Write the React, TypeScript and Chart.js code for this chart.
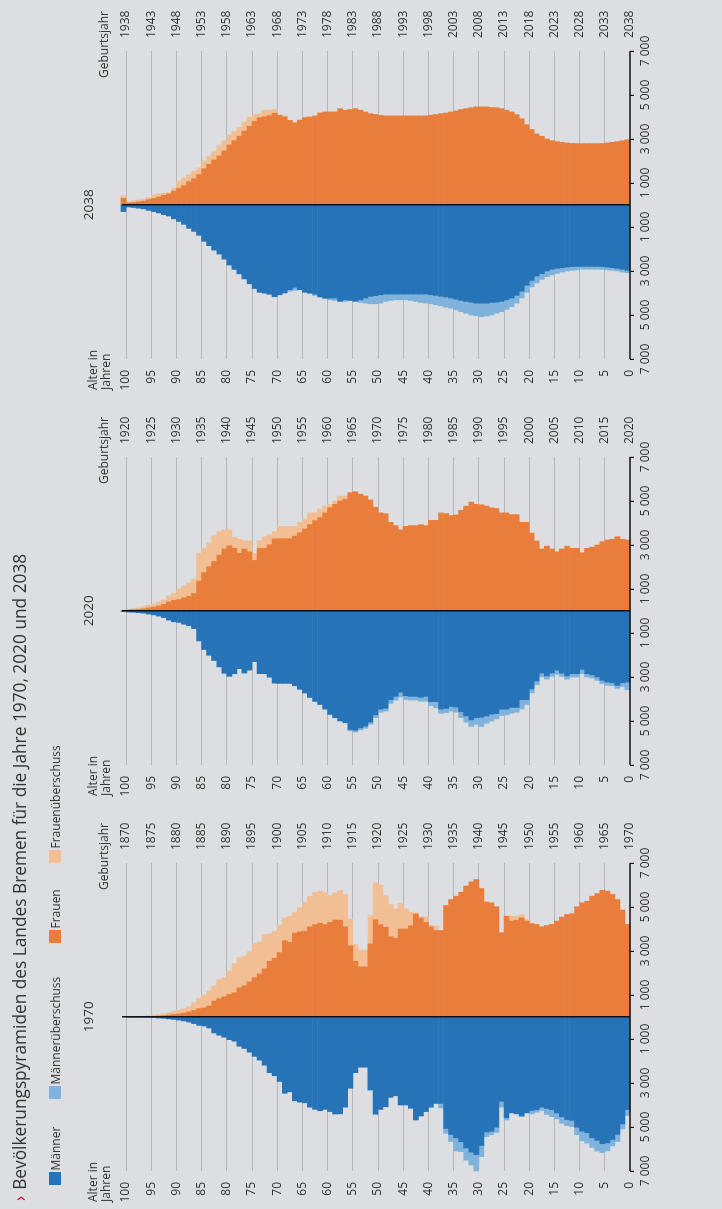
import React, { useEffect, useRef } from "react";
import { Chart, registerables } from "chart.js";

Chart.register(...registerables);

// ---------- texts ----------
const titleText = "Bevölkerungspyramiden des Landes Bremen für die Jahre 1970, 2020 und 2038";
const legendLabels = ["Männer", "Männerüberschuss", "Frauen", "Frauenüberschuss"];
const ageAxisLabel = ["Alter in", "Jahren"];
const birthAxisLabel = "Geburtsjahr";

// ---------- ticks ----------
const ageTicks = [0, 5, 10, 15, 20, 25, 30, 35, 40, 45, 50, 55, 60, 65, 70, 75, 80, 85, 90, 95, 100];
const valueTicks = [-7000, -5000, -3000, -1000, 1000, 3000, 5000, 7000];

// ---------- data (persons per age 0..100) ----------
const panelYears = [1970, 2020, 2038];

const men1970 = [
  4480, 5090, 5660, 5860, 6090, 6160, 6090, 5930, 5730, 5630,
  5350, 4980, 4940, 4830, 4630, 4530, 4430, 4250, 4330, 4400,
  4360, 4510, 4400, 4360, 4680, 4100, 5240, 5350, 5440, 6350,
  7000, 6730, 6510, 6120, 6090, 5660, 5290, 4130, 3930, 4100,
  4300, 4500, 4680, 4150, 4000, 4000, 3580, 3650, 4080, 4200,
  4420, 3320, 2280, 2280, 2530, 3240, 4100, 4400, 4410, 4300,
  4200, 4260, 4200, 4100, 3900, 3870, 3810, 3400, 3470, 2930,
  2670, 2530, 2190, 1960, 1790, 1600, 1430, 1330, 1100, 1030,
  920, 830, 725, 500, 410, 380, 300, 230, 180, 140,
  110, 85, 60, 45, 30, 20, 12, 7, 4, 2,
  0,
];
const women1970 = [
  4210, 4860, 5340, 5570, 5720, 5760, 5610, 5490, 5260, 5190,
  5010, 4700, 4660, 4540, 4360, 4210, 4160, 4100, 4210, 4250,
  4430, 4660, 4580, 4580, 4580, 3830, 5010, 5190, 5230, 5840,
  6250, 6140, 5950, 5670, 5490, 5340, 5070, 3930, 4130, 4170,
  4550, 4550, 4740, 4770, 4920, 5160, 4920, 5110, 5520, 5990,
  6100, 4610, 3040, 3040, 3300, 4460, 5570, 5750, 5640, 5520,
  5670, 5720, 5670, 5490, 5220, 4960, 4740, 4580, 4510, 4180,
  3900, 3780, 3750, 3420, 3340, 2970, 2770, 2690, 2440, 2090,
  1790, 1710, 1400, 1180, 1000, 850, 650, 470, 380, 320,
  270, 200, 150, 110, 80, 55, 35, 20, 10, 5,
  0,
];

const men2020 = [
  3580, 3430, 3520, 3400, 3380, 3300, 3150, 3050, 3000, 2850,
  3000, 3000, 3100, 2970, 2880, 2970, 3100, 2990, 3350, 3720,
  4250, 4450, 4600, 4650, 4720, 4750, 4900, 5000, 5100, 5250,
  5150, 5250, 5050, 4850, 4600, 4550, 4620, 4650, 4400, 4300,
  4100, 4100, 4050, 4050, 4020, 3900, 4050, 4200, 4550, 4600,
  4850, 5150, 5330, 5400, 5500, 5450, 5080, 5000, 4850, 4700,
  4460, 4250, 4110, 3930, 3730, 3560, 3400, 3290, 3290, 3290,
  3280, 3010, 2850, 2850, 2300, 2690, 2820, 2620, 2850, 2970,
  2830, 2540, 2250, 2010, 1750, 1360, 800, 670, 600, 520,
  490, 415, 300, 230, 175, 140, 100, 75, 55, 50,
  20,
];
const women2020 = [
  3230, 3260, 3380, 3260, 3230, 3150, 3000, 2900, 2850, 2650,
  2850, 2850, 2950, 2820, 2690, 2820, 2950, 2820, 3180, 3540,
  4030, 4030, 4380, 4380, 4460, 4460, 4660, 4690, 4770, 4830,
  4850, 4950, 4770, 4580, 4370, 4340, 4430, 4460, 4120, 4120,
  3880, 3920, 3880, 3880, 3850, 3690, 3880, 4030, 4420, 4460,
  4720, 5050, 5230, 5310, 5420, 5380, 5230, 5230, 5000, 4850,
  4770, 4640, 4460, 4460, 4180, 4030, 3850, 3850, 3850, 3850,
  3620, 3460, 3380, 3200, 2620, 3180, 3200, 3260, 3350, 3690,
  3690, 3620, 3420, 3110, 2850, 2620, 1460, 1280, 1150, 1000,
  800, 690, 490, 415, 310, 260, 200, 154, 108, 77,
  40,
];

const men2038 = [
  3080, 3050, 3000, 2970, 2950, 2930, 2920, 2920, 2920, 2920,
  2950, 2970, 3000, 3050, 3110, 3180, 3260, 3380, 3540, 3720,
  3970, 4230, 4460, 4620, 4740, 4850, 4920, 5000, 5050, 5080,
  5030, 5000, 4920, 4850, 4770, 4690, 4650, 4580, 4540, 4490,
  4460, 4430, 4380, 4340, 4310, 4310, 4310, 4340, 4380, 4460,
  4490, 4490, 4460, 4430, 4380, 4340, 4380, 4380, 4340, 4310,
  4260, 4180, 4110, 4030, 3970, 3850, 3880, 3920, 4000, 4080,
  4170, 4060, 4010, 3970, 3800, 3580, 3360, 3130, 2930, 2730,
  2460, 2230, 2050, 1850, 1650, 1380, 1200, 1060, 880, 750,
  630, 500, 440, 360, 300, 245, 175, 145, 115, 90,
  300,
];
const women2038 = [
  2970, 2920, 2880, 2850, 2820, 2800, 2790, 2790, 2790, 2790,
  2790, 2800, 2820, 2850, 2880, 2920, 3000, 3120, 3230, 3430,
  3650, 3920, 4110, 4230, 4310, 4380, 4420, 4430, 4460, 4460,
  4460, 4420, 4380, 4340, 4280, 4230, 4180, 4150, 4110, 4080,
  4050, 4050, 4050, 4050, 4050, 4050, 4050, 4050, 4050, 4080,
  4120, 4150, 4230, 4310, 4380, 4350, 4310, 4380, 4230, 4230,
  4230, 4200, 4050, 4000, 4000, 3890, 3740, 3850, 4050, 4080,
  4340, 4310, 4310, 4150, 4120, 4000, 3770, 3540, 3340, 3180,
  2920, 2690, 2420, 2200, 2000, 1690, 1540, 1380, 1230, 1080,
  770, 570, 540, 510, 460, 350, 260, 230, 200, 150,
  420,
];

const menSeries = [men1970, men2020, men2038];
const womenSeries = [women1970, women2020, women2038];

// ---------- style ----------
const BG = "#dcdee1";
const TEXT = "#333333";
const GRID = "#b4b7ba";
const C_MEN = "#2773b8";
const C_MEN_SUR = "#7fb3db";
const C_WOMEN = "#e97e3c";
const C_WOMEN_SUR = "#f2bf94";
const legendColors = [C_MEN, C_MEN_SUR, C_WOMEN, C_WOMEN_SUR];
const FONT = '"Open Sans", "Noto Sans", sans-serif';

// layout (landscape coordinates, whole page is rotated afterwards)
const PAGE_W = 1209;
const PAGE_H = 722;
const panelLeft = [0, 406, 812];
const panelWidth = [400, 400, 397];
const legendX = [24, 110, 266, 346];
const AXIS_LEFT = 38; // men 7000 edge inside a panel canvas
const AXIS_RIGHT = 346; // women 7000 edge inside a panel canvas
const PLOT_TOP = 126; // age 100
const PLOT_BOTTOM = 630; // age 0

function fmtThousands(v: number) {
  const a = Math.abs(v);
  const k = Math.floor(a / 1000);
  const r = String(a % 1000).padStart(3, "0");
  return k > 0 ? `${k} ${r}` : String(a);
}

function Pyramid({ idx }: { idx: number }) {
  const ref = useRef<HTMLCanvasElement | null>(null);
  const year = panelYears[idx];
  const men = menSeries[idx];
  const women = womenSeries[idx];
  const width = panelWidth[idx];

  useEffect(() => {
    if (!ref.current) return;
    const ages = men.map((_, i) => i);
    const common = ages.map((a) => Math.min(men[a], women[a]));
    const pts = (vals: (number | null)[]) => ages.map((a) => ({ x: vals[a], y: a + 0.5 }));
    const nz = (v: number) => (v === 0 ? null : v);

    const overlay = {
      id: "overlay" + idx,
      afterDraw(chart: any) {
        const { ctx, chartArea } = chart;
        const xs = chart.scales.x;
        const x0 = Math.round(xs.getPixelForValue(0)) + 0.25;
        ctx.save();
        ctx.strokeStyle = "#111";
        ctx.lineWidth = 1.5;
        ctx.beginPath();
        ctx.moveTo(chartArea.left, chartArea.bottom);
        ctx.lineTo(chartArea.right, chartArea.bottom);
        ctx.stroke();
        ctx.beginPath();
        ctx.moveTo(x0, PLOT_TOP - 4);
        ctx.lineTo(x0, chartArea.bottom);
        ctx.stroke();
        ctx.fillStyle = TEXT;
        ctx.textBaseline = "alphabetic";
        ctx.font = `13.5px ${FONT}`;
        ctx.textAlign = "center";
        ctx.fillText(String(year), x0, 93);
        ctx.font = `12px ${FONT}`;
        ctx.textAlign = "left";
        ctx.fillText(ageAxisLabel[0], 7, 97);
        ctx.fillText(ageAxisLabel[1], 7, 110);
        ctx.textAlign = "right";
        ctx.fillText(birthAxisLabel, xs.getPixelForValue(7000) + 40, 108);
        ctx.restore();
      },
    };

    const chart = new Chart(ref.current, {
      type: "bar",
      data: {
        datasets: [
          { label: legendLabels[0], data: pts(common.map((v) => nz(-v))), backgroundColor: C_MEN },
          { label: legendLabels[1], data: pts(ages.map((a) => nz(-Math.max(0, men[a] - women[a])))), backgroundColor: C_MEN_SUR },
          { label: legendLabels[2], data: pts(common.map((v) => nz(v))), backgroundColor: C_WOMEN },
          { label: legendLabels[3], data: pts(ages.map((a) => nz(Math.max(0, women[a] - men[a])))), backgroundColor: C_WOMEN_SUR },
        ] as any,
      },
      options: {
        indexAxis: "y",
        responsive: false,
        animation: false,
        devicePixelRatio: 1,
        layout: { padding: { top: PLOT_TOP, bottom: 0, left: 0, right: 0 } },
        datasets: { bar: { barPercentage: 1, categoryPercentage: 1, borderWidth: 0, clip: false } } as any,
        scales: {
          x: {
            type: "linear",
            min: -7000,
            max: 7000,
            stacked: true,
            offset: false,
            afterBuildTicks: (s: any) => {
              s.ticks = valueTicks.map((v) => ({ value: v }));
            },
            afterFit: (s: any) => {
              s.height = PAGE_H - PLOT_BOTTOM;
            },
            grid: { drawOnChartArea: false, drawTicks: true, tickLength: 4, color: "#111", lineWidth: 1.2, offset: false },
            border: { display: false },
            ticks: {
              padding: 4,
              autoSkip: false,
              maxRotation: 0,
              color: TEXT,
              font: { family: FONT, size: 12 },
              callback: (v: any) => fmtThousands(Number(v)),
            },
          },
          y: {
            type: "linear",
            min: 0,
            max: 100,
            stacked: true,
            offset: false,
            afterBuildTicks: (s: any) => {
              s.ticks = ageTicks.map((v) => ({ value: v }));
            },
            afterFit: (s: any) => {
              s.width = AXIS_LEFT;
            },
            grid: {
              offset: false,
              drawTicks: false,
              lineWidth: 1,
              color: (c: any) => (c.tick && c.tick.value === 0 ? "rgba(0,0,0,0)" : GRID),
            },
            border: { display: false },
            ticks: { padding: 11, autoSkip: false, color: TEXT, font: { family: FONT, size: 12 } },
          },
          y2: {
            type: "linear",
            position: "right",
            min: 0,
            max: 100,
            offset: false,
            afterBuildTicks: (s: any) => {
              s.ticks = ageTicks.map((v) => ({ value: v }));
            },
            afterFit: (s: any) => {
              s.width = width - AXIS_RIGHT;
            },
            grid: { display: false, drawTicks: false, offset: false },
            border: { display: false },
            ticks: {
              padding: 13,
              autoSkip: false,
              color: TEXT,
              font: { family: FONT, size: 12 },
              callback: (v: any) => String(year - Number(v)),
            },
          },
        } as any,
        plugins: { legend: { display: false }, tooltip: { enabled: false } },
      },
      plugins: [overlay],
    });
    return () => chart.destroy();
  }, []);

  return (
    <canvas
      ref={ref}
      width={width}
      height={PAGE_H}
      style={{ position: "absolute", left: panelLeft[idx], top: 0, width, height: PAGE_H }}
    />
  );
}

export default function App() {
  useEffect(() => {
    document.body.style.margin = "0";
    document.body.style.background = BG;
    document.documentElement.style.overflow = "hidden";
  }, []);

  return (
    <div
      style={{
        position: "fixed",
        left: 0,
        top: 0,
        width: PAGE_W,
        height: PAGE_H,
        background: BG,
        transformOrigin: "0 0",
        transform: `translate(0px, ${PAGE_W}px) rotate(-90deg)`,
        fontFamily: FONT,
        color: TEXT,
        overflow: "hidden",
      }}
    >
      <div
        style={{
          position: "absolute",
          left: 8,
          top: 8,
          fontSize: 17.3,
          lineHeight: "normal",
          whiteSpace: "nowrap",
          color: TEXT,
        }}
      >
        <span style={{ color: "#e2001a", marginRight: 6 }}>›</span>
        {titleText}
      </div>
      {legendLabels.map((l, i) => (
        <div
          key={l}
          style={{
            position: "absolute",
            left: legendX[i],
            top: 47,
            height: 16,
            display: "flex",
            alignItems: "center",
            fontSize: 12,
            whiteSpace: "nowrap",
          }}
        >
          <span style={{ display: "inline-block", width: 12.5, height: 12.5, background: legendColors[i], marginRight: 2 }} />
          <span>{l}</span>
        </div>
      ))}
      {panelYears.map((_, i) => (
        <Pyramid key={i} idx={i} />
      ))}
    </div>
  );
}
